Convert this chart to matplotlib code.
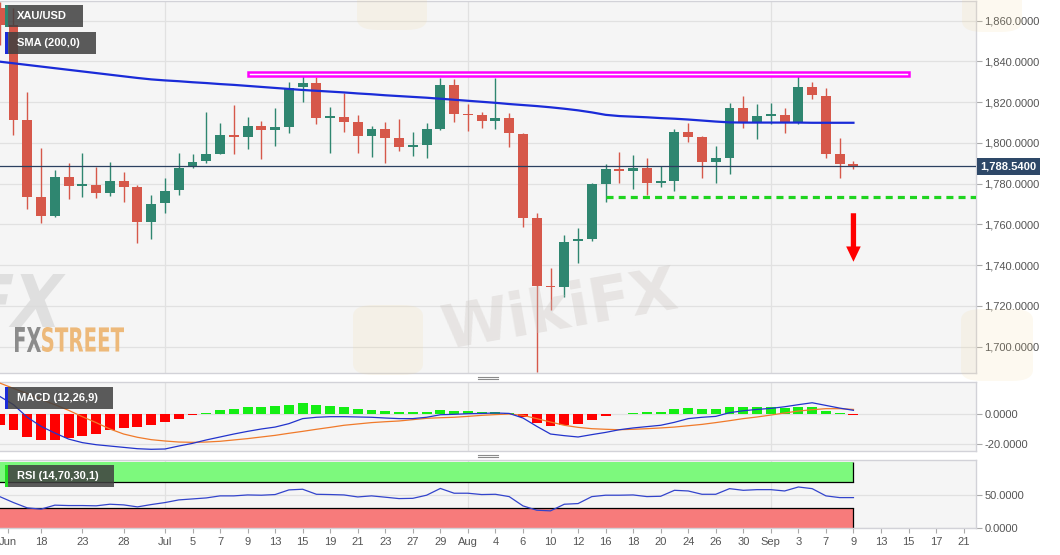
import numpy as np
import matplotlib.pyplot as plt
from matplotlib.patches import Rectangle, FancyArrowPatch, FancyBboxPatch, PathPatch
from matplotlib.lines import Line2D
from matplotlib.textpath import TextPath
from matplotlib.font_manager import FontProperties
from matplotlib.transforms import Affine2D, blended_transform_factory

plt.rcParams['font.family'] = ['Liberation Sans', 'DejaVu Sans']

# trading-day index, 0 = Fri 18 Jun 2021, 59 = Thu 9 Sep 2021
days = list(range(-3, 60))

opens = [1866.0, 1858.0, 1811.5, 1773.3, 1764.1, 1783.1, 1778.9, 1779.4, 1775.3, 1781.3,
         1778.6, 1761.4, 1770.4, 1776.9, 1788.0, 1791.0, 1794.7, 1803.9, 1803.1, 1808.3,
         1806.4, 1807.8, 1827.3, 1829.3, 1812.3, 1812.6, 1810.3, 1803.6, 1806.9, 1802.3,
         1797.8, 1798.9, 1806.9, 1828.4, 1814.2, 1813.7, 1810.9, 1812.1, 1804.4, 1763.0,
         1730.0, 1729.2, 1752.0, 1752.9, 1780.0, 1787.2, 1786.2, 1787.6, 1780.2, 1781.3,
         1805.3, 1802.8, 1790.8, 1792.5, 1817.0, 1810.1, 1813.4, 1813.7, 1810.1, 1827.6,
         1823.0, 1794.4, 1789.5]
highs = [1869.0, 1866.0, 1825.2, 1797.4, 1786.7, 1790.0, 1794.9, 1788.3, 1790.5, 1785.6,
         1779.4, 1774.5, 1782.6, 1794.9, 1794.4, 1815.0, 1809.6, 1818.5, 1812.6, 1810.9,
         1817.0, 1829.9, 1834.2, 1832.5, 1817.5, 1824.4, 1813.7, 1808.3, 1810.3, 1811.8,
         1805.3, 1809.6, 1831.7, 1831.2, 1819.1, 1815.0, 1831.7, 1814.8, 1805.0, 1765.5,
         1738.5, 1754.7, 1758.1, 1780.3, 1789.7, 1795.4, 1794.0, 1792.4, 1788.7, 1806.9,
         1809.6, 1803.4, 1798.5, 1819.5, 1823.2, 1819.1, 1819.8, 1817.0, 1833.8, 1830.1,
         1827.1, 1802.3, 1791.1]
lows = [1848.0, 1804.0, 1767.4, 1760.9, 1763.5, 1772.4, 1773.3, 1772.8, 1774.0, 1771.0,
        1750.7, 1753.0, 1765.5, 1774.5, 1787.6, 1790.0, 1794.4, 1794.4, 1797.0, 1792.0,
        1798.7, 1804.7, 1820.2, 1809.2, 1794.9, 1805.3, 1794.9, 1793.3, 1790.0, 1796.2,
        1793.6, 1792.6, 1806.4, 1810.1, 1805.9, 1807.1, 1806.9, 1797.9, 1758.6, 1687.7,
        1718.0, 1724.5, 1741.2, 1752.0, 1771.2, 1780.5, 1777.2, 1774.5, 1778.6, 1776.5,
        1800.6, 1782.6, 1780.2, 1784.6, 1807.5, 1801.8, 1809.3, 1805.0, 1809.3, 1821.4,
        1792.6, 1782.6, 1787.0]
closes = [1858.0, 1811.5, 1773.3, 1764.3, 1783.1, 1778.9, 1779.8, 1775.3, 1781.3, 1778.6,
          1761.4, 1770.1, 1776.5, 1787.6, 1790.8, 1794.7, 1803.7, 1803.1, 1808.3, 1806.4,
          1807.7, 1826.8, 1829.3, 1812.4, 1812.7, 1810.4, 1803.6, 1806.9, 1802.3, 1797.8,
          1798.9, 1806.9, 1828.4, 1814.2, 1813.7, 1810.9, 1812.1, 1804.7, 1763.4, 1730.0,
          1729.2, 1751.5, 1752.9, 1780.0, 1787.2, 1786.2, 1787.6, 1780.2, 1781.3, 1805.3,
          1802.8, 1790.8, 1792.5, 1817.0, 1810.1, 1813.4, 1814.0, 1810.1, 1827.6, 1823.5,
          1794.4, 1789.5, 1788.54]
sma200 = [1839.9, 1839.1, 1838.3, 1837.5, 1836.7, 1835.9, 1835.1, 1834.3, 1833.5, 1832.7,
          1831.9, 1831.2, 1830.7, 1830.3, 1829.8, 1829.4, 1828.9, 1828.5, 1828.0, 1827.5,
          1827.0, 1826.5, 1826.0, 1825.6, 1825.2, 1824.8, 1824.3, 1823.9, 1823.4, 1823.0,
          1822.6, 1822.2, 1821.7, 1821.2, 1820.7, 1820.2, 1819.7, 1819.1, 1818.6, 1818.1,
          1817.5, 1816.8, 1816.0, 1815.0, 1813.8, 1813.2, 1812.9, 1812.6, 1812.2, 1811.9,
          1811.5, 1811.0, 1810.5, 1810.1, 1810.0, 1810.0, 1810.0, 1810.0, 1810.0, 1809.9,
          1809.9, 1809.9, 1809.9]
last_price = 1788.54

macd_line = [11.9, 6.3, -2.2, -8.3, -12.8, -16.9, -19.3, -20.7, -21.6, -22.5,
             -23.4, -23.8, -23.6, -21.6, -19.8, -17.5, -15.5, -13.5, -11.7, -10.1,
             -8.8, -6.5, -3.1, -2.2, -1.8, -1.8, -2.0, -2.2, -2.7, -3.1,
             -3.1, -2.2, -0.5, -0.2, 0.2, 0.4, 0.7, 0.4, -2.7, -8.3,
             -13.5, -14.6, -15.5, -13.9, -12.4, -10.6, -9.4, -8.5, -7.6, -5.6,
             -3.1, -2.2, -1.6, 0.9, 2.2, 3.1, 3.8, 4.9, 6.3, 7.6,
             5.8, 4.0, 2.5]
macd_signal = [20.9, 17.3, 13.7, 9.9, 6.3, 2.5, -1.8, -5.8, -10.1, -13.5,
               -15.7, -17.3, -18.2, -18.9, -19.1, -18.9, -18.4, -17.5, -16.6, -15.5,
               -14.4, -13.0, -11.7, -10.3, -9.0, -7.6, -6.7, -5.8, -5.2, -4.7,
               -3.8, -2.9, -2.5, -2.2, -1.6, -0.9, -0.4, 0.0, -0.9, -3.1,
               -5.4, -7.6, -9.0, -9.9, -10.3, -10.6, -10.3, -9.9, -9.4, -8.8,
               -7.9, -7.0, -5.8, -4.5, -3.1, -2.0, -0.7, 0.7, 2.0, 2.9,
               3.6, 3.6, 3.1]
macd_hist = [-7.1, -11.1, -15.6, -17.8, -17.3, -16.4, -14.9, -13.3, -11.1, -9.3,
             -8.9, -7.3, -5.3, -3.1, -0.9, 0.6, 2.7, 3.6, 4.7, 4.7,
             5.3, 6.2, 7.1, 6.2, 5.3, 4.4, 3.3, 2.7, 2.0, 1.3,
             1.1, 1.1, 2.6, 2.2, 2.0, 1.6, 1.3, 0.9, -2.0, -6.1,
             -8.3, -7.6, -6.7, -4.0, -1.6, 0.0, 0.9, 1.1, 1.1, 3.4,
             4.0, 3.6, 3.4, 4.7, 4.9, 4.7, 4.7, 4.0, 4.7, 4.5,
             2.2, 0.5, -0.9]
rsi = [47.5, 38.5, 30.5, 28.6, 34.6, 34.0, 34.0, 33.6, 36.0, 35.0,
       32.0, 35.5, 38.5, 42.5, 44.0, 45.5, 48.6, 48.6, 50.0, 49.6,
       50.6, 57.6, 58.6, 51.0, 50.6, 50.0, 47.0, 48.6, 46.6, 44.5,
       44.9, 49.6, 59.8, 52.6, 52.6, 50.6, 51.0, 47.5, 33.5, 27.0,
       26.0, 36.0, 37.0, 47.5, 49.6, 49.6, 50.0, 47.5, 48.0, 57.0,
       56.0, 51.0, 51.0, 59.5, 57.0, 58.0, 58.0, 56.0, 62.0, 59.5,
       48.6, 46.0, 46.0]

tick_pos = [-2.4, 0, 3, 6, 9, 11, 13, 15, 17, 19, 21, 23, 25, 27, 29, 31, 33,
            35, 37, 39, 41, 43, 45, 47, 49, 51, 53, 55, 57, 59, 61, 63, 65, 67]
tick_labels = ['Jun', '18', '23', '28', 'Jul', '5', '7', '9', '13', '15', '19', '21',
               '23', '27', '29', 'Aug', '4', '6', '10', '12', '16', '18', '20', '24',
               '26', '30', 'Sep', '3', '7', '9', '13', '15', '17', '21']
month_starts = [9, 31, 53]

# annotations drawn on the chart
resist_start, resist_end, resist_lo, resist_hi = 15, 63, 1832.9, 1834.8
support_start, support_level = 41, 1773.6
arrow_day, arrow_from, arrow_to = 59, 1765.5, 1741.7

W, H = 1060, 555
GREEN, RED = '#2F8670', '#D6584A'
BG = '#F5F5F5'
GRID = '#E1E1E1'
XLIM = (-2.98, 67.9)

fig = plt.figure(figsize=(W / 100, H / 100), dpi=100, facecolor='white')


def frac(x0, top, x1, bottom):
    return [x0 / W, 1 - bottom / H, (x1 - x0) / W, (bottom - top) / H]


ax = fig.add_axes(frac(0, 1, 976, 372.7))
ax2 = fig.add_axes(frac(0, 382, 976, 450.7))
ax3 = fig.add_axes(frac(0, 460, 976, 528.3))

x = np.array(days)
o, h, l, c = map(np.array, (opens, highs, lows, closes))
up = c >= o
cols = np.where(up, GREEN, RED)

for a in (ax, ax2, ax3):
    a.set_facecolor(BG)
    a.set_xlim(*XLIM)
    for s in a.spines.values():
        s.set_color('#D2D2D8')
        s.set_linewidth(1)
    a.spines['left'].set_visible(False)
    a.yaxis.tick_right()
    a.tick_params(axis='y', length=4, width=0.8, color='#AAAAAA', labelsize=8,
                  labelcolor='#555555', pad=2)
    for m in month_starts:
        a.axvline(m, color=GRID, lw=0.9, zorder=0)
    a.set_axisbelow(True)
    a.grid(axis='y', color=GRID, lw=0.9)

# ---- price panel
ax.set_ylim(1687.24, 1869.67)
ax.set_yticks(np.arange(1700, 1861, 20))
ax.set_yticklabels([f'{v:,.4f}' for v in np.arange(1700, 1861, 20)])
ax.tick_params(axis='x', bottom=False, labelbottom=False)

ax.vlines(x, l, h, colors=cols, lw=1.0, zorder=3)
ax.bar(x, np.maximum(np.abs(c - o), 0.7), bottom=np.minimum(o, c), width=0.72,
       color=cols, zorder=4)
ax.plot(x, sma200, color='#1A2BD8', lw=1.6, zorder=5)
ax.axhline(last_price, color='#2B4060', lw=0.9, zorder=5)

ax.add_patch(Rectangle((resist_start, resist_lo), resist_end - resist_start,
                       resist_hi - resist_lo, facecolor='white', edgecolor='#FF00FF',
                       lw=1.8, zorder=6))
ax.plot([support_start, XLIM[1]], [support_level, support_level], color='#1FD41F',
        lw=2.3, dashes=(2.2, 1.6), zorder=6)
ax.add_patch(FancyArrowPatch((arrow_day, arrow_from), (arrow_day, arrow_to),
                             arrowstyle='simple,head_width=10.5,head_length=11,tail_width=3.8',
                             mutation_scale=1, color='#FF0000', lw=0, zorder=7,
                             shrinkA=0, shrinkB=0))

ax.text(1.0045, last_price, f'{last_price:,.4f}',
        transform=blended_transform_factory(ax.transAxes, ax.transData),
        ha='left', va='center', fontsize=8, fontweight='bold', color='white',
        bbox=dict(boxstyle='square,pad=0.3', fc='#2E4868', ec='none'),
        clip_on=False, zorder=10)

# ---- MACD panel
ax2.set_ylim(-24.75, 21.6)
ax2.set_yticks([-20, 0])
ax2.set_yticklabels(['-20.0000', '0.0000'])
ax2.tick_params(axis='x', bottom=False, labelbottom=False)
hist = np.array(macd_hist)
ax2.bar(x, hist, width=0.72, color=np.where(hist >= 0, '#14EE14', '#FF0000'), zorder=3)
ax2.plot(x, macd_signal, color='#F07A2A', lw=0.9, zorder=4)
ax2.plot(x, macd_line, color='#2233CC', lw=0.9, zorder=5)

# ---- RSI panel
ax3.set_ylim(-0.3, 102.7)
ax3.set_yticks([0, 50])
ax3.set_yticklabels(['0.0000', '50.0000'])
ax3.fill_between([XLIM[0], days[-1]], 70, 100, color='#7DF97D', lw=0, zorder=1)
ax3.fill_between([XLIM[0], days[-1]], 0, 30, color='#F77B7B', lw=0, zorder=1)
ax3.plot([XLIM[0], days[-1]], [70, 70], color='black', lw=0.9, zorder=2)
ax3.plot([XLIM[0], days[-1]], [30, 30], color='black', lw=0.9, zorder=2)
ax3.vlines([days[-1], days[-1]], [70, 0], [100, 30], color='black', lw=0.9, zorder=2)
ax3.plot(x, rsi, color='#3344CC', lw=0.9, zorder=4)
ax3.set_xticks(tick_pos)
ax3.set_xticklabels(tick_labels)
ax3.tick_params(axis='x', length=3.5, width=0.8, color='#AAAAAA', labelsize=8,
                labelcolor='#555555', pad=3)

# ---- legend tags
def tag(x0, top, x1, bottom, text, bar):
    fig.add_artist(Rectangle((x0 / W, 1 - bottom / H), (x1 - x0) / W, (bottom - top) / H,
                             transform=fig.transFigure, facecolor='#404040', alpha=0.86,
                             edgecolor='none', zorder=20))
    fig.add_artist(Rectangle((x0 / W, 1 - bottom / H), 2.5 / W, (bottom - top) / H,
                             transform=fig.transFigure, facecolor=bar,
                             edgecolor='none', zorder=21))
    fig.text((x0 + 12) / W, 1 - (top + bottom) / 2 / H, text, color='white',
             fontsize=8, fontweight='bold', va='center', ha='left', zorder=22)


tag(5, 5, 83, 27, 'XAU/USD', GREEN)
tag(5, 32, 96, 54, 'SMA (200,0)', '#1A2BD8')
tag(5, 387, 113, 409, 'MACD (12,26,9)', '#1A2BD8')
tag(5, 465, 114, 487, 'RSI (14,70,30,1)', '#22DD22')

# panel resize handles
for yy in (376.5, 378.5, 454.5, 456.5):
    fig.add_artist(Line2D([478 / W, 498 / W], [1 - yy / H] * 2, color='#8A8A8A',
                          lw=0.8, transform=fig.transFigure, zorder=20))

# ---- watermarks
def shape_text(text, x0, top, x1, bottom, color, skew=0.0, alpha=1.0, z=2):
    tp = TextPath((0, 0), text, size=100,
                  prop=FontProperties(family='DejaVu Sans', weight='bold'))
    bb = tp.get_extents()
    tr = (Affine2D().translate(-bb.x0, -bb.y0)
          .scale((x1 - x0) / bb.width, (bottom - top) / bb.height)
          .skew_deg(skew, 0)
          .translate(x0, H - bottom)
          .scale(1 / W, 1 / H))
    fig.add_artist(PathPatch(tp, transform=tr + fig.transFigure, facecolor=color,
                             edgecolor='none', alpha=alpha, zorder=z))


shape_text('FX', -30, 274, 55, 327, '#DADADA', skew=12, alpha=0.8, z=8)
shape_text('FX', 15, 327, 41, 352, '#8C8C8C', z=9)
shape_text('STREET', 42, 327, 124, 352, '#EDB97A', z=9)

for cx, cy, s in ((388, 340, 70), (392, -5, 70), (992, 2, 60), (997, 345, 72)):
    fig.add_artist(FancyBboxPatch(((cx - s / 2) / W, 1 - (cy + s / 2) / H), s / W, s / H,
                                  boxstyle='round,pad=0,rounding_size=0.02',
                                  transform=fig.transFigure, facecolor='#F3D58C',
                                  alpha=0.13, edgecolor='none', zorder=15))
fig.text(560 / W, 1 - 312 / H, 'WikiFX', fontsize=44, fontweight='bold',
         family='DejaVu Sans', color='#C9C2BE', alpha=0.32, rotation=10,
         ha='center', va='center', zorder=15)

fig.savefig('out.png', dpi=100, facecolor='white')
